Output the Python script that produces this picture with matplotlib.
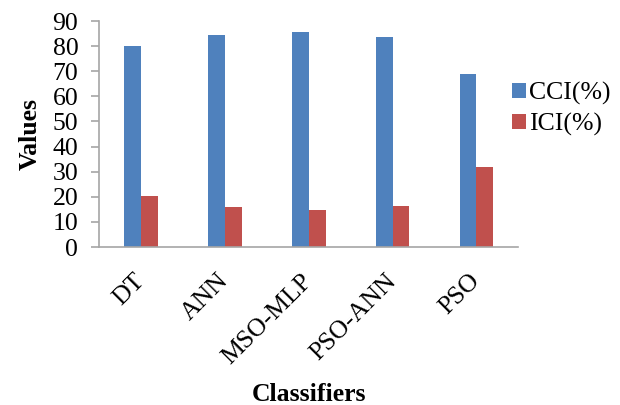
import numpy as np
import matplotlib
matplotlib.use("Agg")
import matplotlib.pyplot as plt

plt.rcParams['font.family'] = ['Liberation Serif', 'DejaVu Serif']

classifiers = ['DT', 'ANN', 'MSO-MLP', 'PSO-ANN', 'PSO']
cci = [80.1, 84.6, 85.7, 83.7, 68.8]
ici = [20.2, 15.8, 14.6, 16.5, 31.8]

blue = '#4F81BD'
red = '#C0504D'
grey = '#A6A6A6'
fs = 18.5

fig = plt.figure(figsize=(6.2, 4.05), dpi=100)
ax = fig.add_axes([0.16, 0.39, 0.676, 0.558])

x = np.arange(len(classifiers))
w = 0.2
ax.bar(x - w / 2, cci, w, color=blue, label='CCI(%)')
ax.bar(x + w / 2, ici, w, color=red, label='ICI(%)')

ax.set_xlim(-0.5, len(classifiers) - 0.5)
ax.set_ylim(0, 90)
ax.set_yticks(range(0, 91, 10))
ax.set_xticks(x)
ax.set_xticklabels(classifiers, rotation=45, ha='right', va='center',
                   rotation_mode='anchor')

for s in ['top', 'right']:
    ax.spines[s].set_visible(False)
for s in ['left', 'bottom']:
    ax.spines[s].set_color(grey)
    ax.spines[s].set_linewidth(1.2)
ax.tick_params(axis='y', colors=grey, labelcolor='black', length=6, width=1.2,
               labelsize=fs, pad=9)
ax.tick_params(axis='x', length=0, labelsize=fs, pad=22)

ax.set_ylabel('Values', fontsize=fs, fontweight='bold')
ax.yaxis.set_label_coords(-0.138, 0.5)
ax.set_xlabel('Classifiers', fontsize=fs, fontweight='bold')
ax.xaxis.set_label_coords(0.5, -0.6)

ax.legend(loc='upper left', bbox_to_anchor=(0.985, 0.73), frameon=False,
          fontsize=fs, handlelength=0.55, handleheight=0.5, handletextpad=0.1,
          labelspacing=0.3, borderaxespad=0, borderpad=0)

fig.savefig('out.png', dpi=100)
